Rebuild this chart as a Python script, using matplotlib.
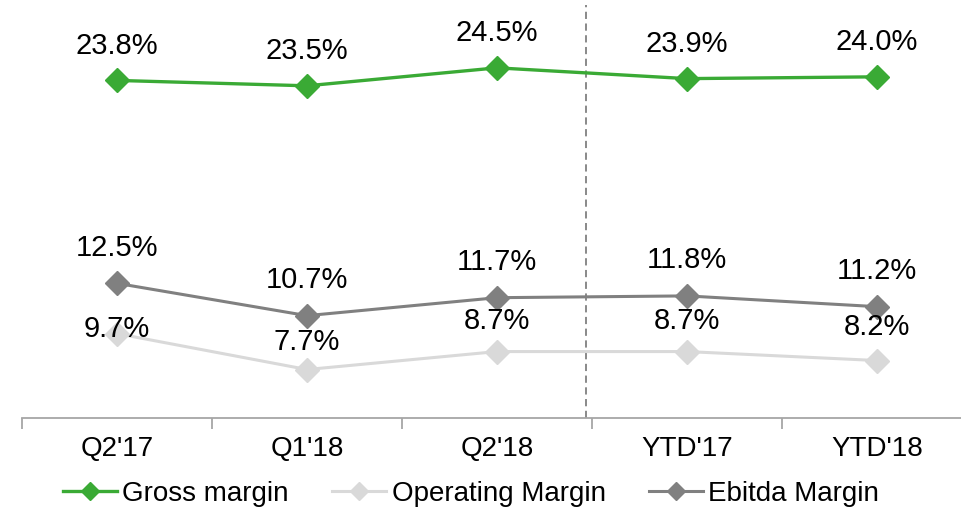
import matplotlib
matplotlib.use("Agg")
import matplotlib.pyplot as plt
from matplotlib.lines import Line2D

categories = ["Q2'17", "Q1'18", "Q2'18", "YTD'17", "YTD'18"]
gross = [23.8, 23.5, 24.5, 23.9, 24.0]
operating = [9.7, 7.7, 8.7, 8.7, 8.2]
ebitda = [12.5, 10.7, 11.7, 11.8, 11.2]

plt.rcParams['font.family'] = ['Liberation Sans', 'DejaVu Sans']

fig = plt.figure(figsize=(9.61, 5.11), dpi=100)
ax = fig.add_axes([22/961, (511-418)/511, 950/961, 413/511])
ax.set_xlim(-0.5, 4.5)
ax.set_ylim(5, 28)

x = range(len(categories))
c_gross = '#3AAA35'
c_oper = '#D9D9D9'
c_ebit = '#808080'

ax.axvline(2.47, color='#808080', lw=1.3, ls=(0, (4, 2.5)), zorder=1)

ms = 12.5
ax.plot(x, operating, color=c_oper, lw=2.2, marker='D', ms=ms, zorder=2)
ax.plot(x, ebitda, color=c_ebit, lw=2.2, marker='D', ms=ms, zorder=3)
ax.plot(x, gross, color=c_gross, lw=2.4, marker='D', ms=ms, zorder=4)

fs = 21
for i, v in enumerate(gross):
    ax.annotate(f"{v:.1f}%", (i, v), xytext=(0, 25), textcoords='offset points',
                ha='center', va='center', fontsize=fs)
for i, v in enumerate(ebitda):
    ax.annotate(f"{v:.1f}%", (i, v), xytext=(0, 25.5), textcoords='offset points',
                ha='center', va='center', fontsize=fs)
op_off = [3, 19.5, 22, 22, 24.5]
for i, v in enumerate(operating):
    ax.annotate(f"{v:.1f}%", (i, v), xytext=(0, op_off[i]), textcoords='offset points',
                ha='center', va='center', fontsize=fs)

for s in ['top', 'right', 'left']:
    ax.spines[s].set_visible(False)
ax.spines['bottom'].set_color('#A6A6A6')
ax.spines['bottom'].set_linewidth(1.3)
ax.set_yticks([])
ax.set_xticks([-0.5, 0.5, 1.5, 2.5, 3.5, 4.5])
ax.set_xticklabels([])
ax.tick_params(axis='x', which='major', length=8, color='#A6A6A6', width=1.3)
ax.set_xticks(list(x), minor=True)
ax.set_xticklabels(categories, minor=True, fontsize=20)
ax.tick_params(axis='x', which='minor', length=0, pad=13)

handles = [
    Line2D([], [], color=c_gross, lw=2.4, marker='D', ms=9),
    Line2D([], [], color=c_oper, lw=2.2, marker='D', ms=9),
    Line2D([], [], color=c_ebit, lw=2.2, marker='D', ms=9),
]
fig.legend(handles, ['Gross margin', 'Operating Margin', 'Ebitda Margin'],
           loc='center', bbox_to_anchor=(471/961, 1 - 494/511), ncol=3,
           frameon=False, fontsize=20, handlelength=1.95, handletextpad=0.2,
           columnspacing=1.55, borderpad=0, borderaxespad=0)

fig.savefig('out.png', dpi=100)
